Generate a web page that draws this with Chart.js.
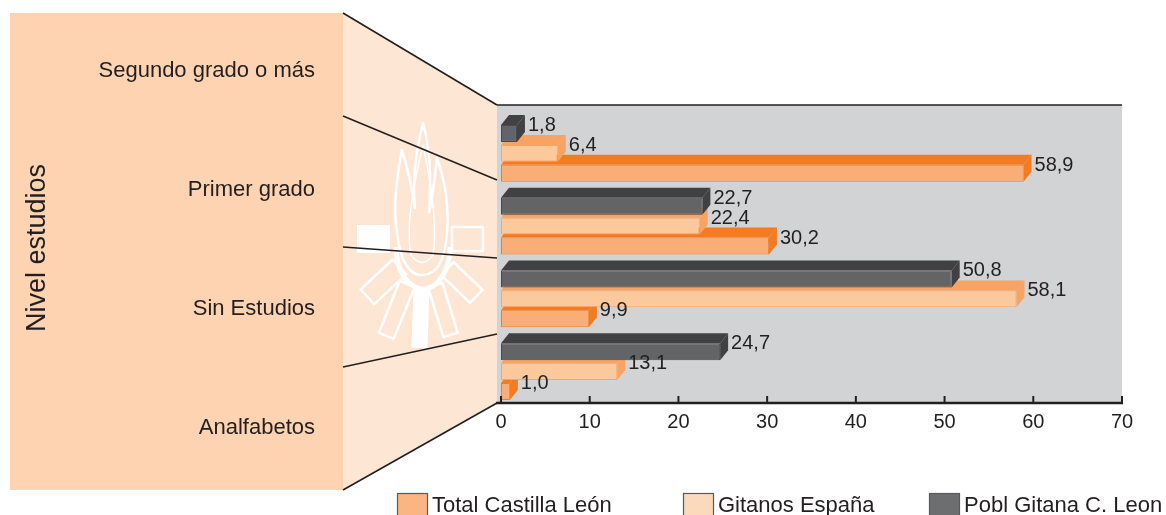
<!DOCTYPE html>
<html>
<head>
<meta charset="utf-8">
<script src="https://cdn.jsdelivr.net/npm/chart.js@4.4.1/dist/chart.umd.min.js"></script>
<style>
  html, body { margin: 0; padding: 0; background: #ffffff; }
  #wrap { width: 1166px; height: 515px; }
</style>
</head>
<body>
<div id="wrap"><canvas id="nivelChart" width="1166" height="515"></canvas></div>
<script>
// Data
const categories = ['Segundo grado o más', 'Primer grado', 'Sin Estudios', 'Analfabetos'];
const seriesNames = ['Total Castilla León', 'Gitanos España', 'Pobl Gitana C. Leon'];
const totalCastillaLeon = [58.9, 30.2, 9.9, 1.0];
const gitanosEspana = [6.4, 22.4, 58.1, 13.1];
const poblGitanaCLeon = [1.8, 22.7, 50.8, 24.7];
const xTicks = [0, 10, 20, 30, 40, 50, 60, 70];
const axisTitle = 'Nivel estudios';

const FONT = '"Liberation Sans", Arial, sans-serif';
const TEXT = '#231f20';
const DEPTH_X = 8;
const DEPTH_Y = 10;

// colours per series: front, edge, top/side faces, legend swatch
const palette = {
  total: { front: '#f9ad77', edge: '#f47b20', face: '#f47b20', swatch: '#fbb582' },
  gitanos: { front: '#fcc99d', edge: '#f9a566', face: '#f9a363', swatch: '#fdd9bc' },
  pobl: { front: '#636466', edge: '#48484a', face: '#414042', swatch: '#6d6e70' },
};

const fmt = (v) => v.toFixed(1).replace('.', ',');

function drawWatermark(ctx) {
  ctx.save();
  ctx.strokeStyle = '#ffffff';
  ctx.fillStyle = '#ffffff';
  ctx.lineWidth = 2.5;
  ctx.lineJoin = 'round';

  // flame
  ctx.beginPath();
  ctx.moveTo(402, 150);
  ctx.quadraticCurveTo(392, 200, 397, 233);
  ctx.quadraticCurveTo(402, 275, 422, 275);
  ctx.quadraticCurveTo(444, 275, 447, 233);
  ctx.quadraticCurveTo(450, 195, 437, 158);
  ctx.quadraticCurveTo(433, 195, 429, 212);
  ctx.quadraticCurveTo(433, 160, 423, 123);
  ctx.quadraticCurveTo(411, 170, 415, 208);
  ctx.quadraticCurveTo(410, 175, 402, 150);
  ctx.closePath();
  ctx.stroke();

  ctx.lineWidth = 1.5;
  ctx.beginPath();
  ctx.moveTo(423, 145);
  ctx.quadraticCurveTo(404, 222, 411, 255);
  ctx.quadraticCurveTo(422, 270, 433, 255);
  ctx.quadraticCurveTo(439, 220, 423, 145);
  ctx.stroke();

  // cup
  ctx.lineWidth = 5;
  ctx.beginPath();
  ctx.ellipse(423, 247, 27, 42, 0, 0, Math.PI);
  ctx.stroke();

  // side blocks
  ctx.fillRect(357, 225, 33, 28);
  ctx.lineWidth = 2.5;
  ctx.strokeRect(452, 227, 31, 24);

  // rays
  const rays = [
    { a: 137, r: 54, l: 44, w: 20, fill: false },
    { a: 112, r: 70, l: 56, w: 16, fill: false },
    { a: 92, r: 73, l: 60, w: 16, fill: true },
    { a: 73, r: 68, l: 52, w: 15, fill: false },
    { a: 44, r: 54, l: 40, w: 18, fill: false },
  ];
  rays.forEach((ray) => {
    const rad = (ray.a * Math.PI) / 180;
    ctx.save();
    ctx.translate(423 + ray.r * Math.cos(rad), 245 + ray.r * Math.sin(rad));
    ctx.rotate(rad);
    if (ray.fill) {
      ctx.fillRect(-ray.l / 2, -ray.w / 2, ray.l, ray.w);
    } else {
      ctx.strokeRect(-ray.l / 2, -ray.w / 2, ray.l, ray.w);
    }
    ctx.restore();
  });
  ctx.restore();
}

const backdropPlugin = {
  id: 'backdrop',
  beforeDraw(chart) {
    const ctx = chart.ctx;
    const x = chart.scales.x;
    ctx.save();
    ctx.fillStyle = '#ffffff';
    ctx.fillRect(0, 0, chart.width, chart.height);

    // left label panel
    ctx.fillStyle = '#fdd3b1';
    ctx.fillRect(10, 13, 333, 477);

    // perspective band towards the plot
    ctx.fillStyle = '#fee6d5';
    ctx.beginPath();
    ctx.moveTo(343, 13);
    ctx.lineTo(497, 105);
    ctx.lineTo(497, 403);
    ctx.lineTo(343, 490);
    ctx.closePath();
    ctx.fill();

    drawWatermark(ctx);

    // back wall of the plot
    const right = x.getPixelForValue(xTicks[xTicks.length - 1]);
    ctx.fillStyle = '#d1d3d4';
    ctx.fillRect(497, 105, right - 497, 298);
    ctx.strokeStyle = TEXT;
    ctx.lineWidth = 1.5;
    ctx.beginPath();
    ctx.moveTo(497, 105);
    ctx.lineTo(right, 105);
    ctx.stroke();

    // connector lines
    const leftY = [13, 116, 247, 367, 490];
    const rightY = [105, 180, 258, 334, 403];
    ctx.lineWidth = 1.6;
    leftY.forEach((ly, i) => {
      ctx.beginPath();
      ctx.moveTo(343, ly);
      ctx.lineTo(497, rightY[i]);
      ctx.stroke();
    });

    // category labels inside the panel
    ctx.fillStyle = TEXT;
    ctx.font = '22px ' + FONT;
    ctx.textAlign = 'right';
    ctx.textBaseline = 'alphabetic';
    const step = 477 / categories.length;
    categories.forEach((c, i) => {
      ctx.fillText(c, 315, 13 + (i + 0.5) * step + 4);
    });

    ctx.save();
    ctx.translate(45, 248);
    ctx.rotate(-Math.PI / 2);
    ctx.textAlign = 'center';
    ctx.font = '27px ' + FONT;
    ctx.fillText(axisTitle, 0, 0);
    ctx.restore();
    ctx.restore();
  },
  afterDatasetDraw(chart, args) {
    const ctx = chart.ctx;
    const ds = chart.data.datasets[args.index];
    const meta = args.meta;
    ctx.save();
    ctx.fillStyle = ds.faceColor;
    meta.data.forEach((bar) => {
      const { x, y, base, height } = bar.getProps(['x', 'y', 'base', 'height'], true);
      const top = y - height / 2;
      const bottom = y + height / 2;
      // top face
      ctx.beginPath();
      ctx.moveTo(base, top);
      ctx.lineTo(base + DEPTH_X, top - DEPTH_Y);
      ctx.lineTo(x + DEPTH_X, top - DEPTH_Y);
      ctx.lineTo(x, top);
      ctx.closePath();
      ctx.fill();
      // side face
      ctx.beginPath();
      ctx.moveTo(x, top);
      ctx.lineTo(x + DEPTH_X, top - DEPTH_Y);
      ctx.lineTo(x + DEPTH_X, bottom - DEPTH_Y);
      ctx.lineTo(x, bottom);
      ctx.closePath();
      ctx.fill();
    });
    ctx.restore();
  },
  afterDatasetsDraw(chart) {
    const ctx = chart.ctx;
    ctx.save();
    ctx.fillStyle = TEXT;
    ctx.font = '20px ' + FONT;
    ctx.textAlign = 'left';
    ctx.textBaseline = 'middle';
    chart.data.datasets.forEach((ds, di) => {
      chart.getDatasetMeta(di).data.forEach((bar, i) => {
        const { x, y } = bar.getProps(['x', 'y'], true);
        ctx.fillText(fmt(ds.data[i]), x + DEPTH_X + 3, y - 8);
      });
    });
    ctx.restore();
  },
  afterDraw(chart) {
    const ctx = chart.ctx;
    const xs = chart.scales.x;
    const axisY = 403;
    ctx.save();
    ctx.strokeStyle = TEXT;
    ctx.lineWidth = 2.5;
    ctx.beginPath();
    ctx.moveTo(496, axisY);
    ctx.lineTo(xs.getPixelForValue(xTicks[xTicks.length - 1]) + 1, axisY);
    ctx.stroke();
    ctx.lineWidth = 2;
    xTicks.forEach((t) => {
      const px = xs.getPixelForValue(t);
      ctx.beginPath();
      ctx.moveTo(px, axisY);
      ctx.lineTo(px, axisY - 7);
      ctx.stroke();
    });

    // legend, in the reference order
    const legendX = [397, 683, 929];
    const order = [2, 1, 0];
    ctx.font = '22px ' + FONT;
    ctx.textBaseline = 'alphabetic';
    ctx.textAlign = 'left';
    order.forEach((di, k) => {
      const ds = chart.data.datasets[di];
      ctx.fillStyle = ds.swatchColor;
      ctx.fillRect(legendX[k], 493, 31, 24);
      ctx.strokeStyle = '#58595b';
      ctx.lineWidth = 1.2;
      ctx.strokeRect(legendX[k] + 0.5, 493.5, 30, 24);
      ctx.fillStyle = TEXT;
      ctx.fillText(ds.label, legendX[k] + 35, 512);
    });
    ctx.restore();
  },
};

function makeDataset(label, data, colors) {
  return {
    label: label,
    data: data,
    backgroundColor: colors.front,
    borderColor: colors.edge,
    borderWidth: 1,
    borderSkipped: false,
    faceColor: colors.face,
    swatchColor: colors.swatch,
    categoryPercentage: 0.824,
    barPercentage: 0.85,
  };
}

const ctx = document.getElementById('nivelChart').getContext('2d');
new Chart(ctx, {
  type: 'bar',
  data: {
    labels: categories,
    datasets: [
      makeDataset(seriesNames[2], poblGitanaCLeon, palette.pobl),
      makeDataset(seriesNames[1], gitanosEspana, palette.gitanos),
      makeDataset(seriesNames[0], totalCastillaLeon, palette.total),
    ],
  },
  options: {
    indexAxis: 'y',
    responsive: false,
    animation: false,
    maintainAspectRatio: false,
    layout: { padding: { left: 501, right: 44, top: 117, bottom: 77 } },
    plugins: {
      legend: { display: false },
      tooltip: { enabled: false },
    },
    scales: {
      y: { display: false },
      x: {
        min: xTicks[0],
        max: xTicks[xTicks.length - 1],
        afterFit: (axis) => { axis.height = 30; },
        afterBuildTicks: (axis) => { axis.ticks = xTicks.map((v) => ({ value: v })); },
        grid: { display: false },
        border: { display: false },
        ticks: {
          autoSkip: false,
          maxRotation: 0,
          padding: -6,
          color: TEXT,
          font: { family: FONT, size: 20 },
        },
      },
    },
  },
  plugins: [backdropPlugin],
});
</script>
</body>
</html>
